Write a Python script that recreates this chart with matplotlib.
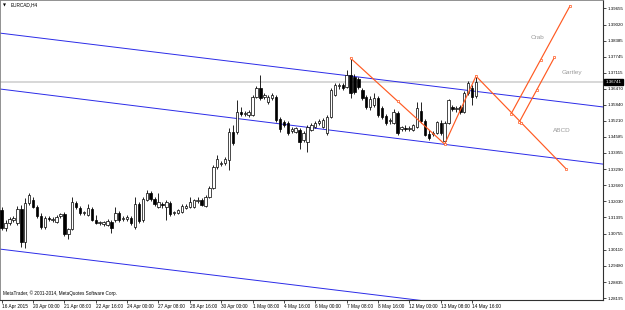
import matplotlib
matplotlib.use("Agg")
import matplotlib.pyplot as plt
from matplotlib.patches import Rectangle
from matplotlib.transforms import blended_transform_factory

# ---------------- data (EURCAD H4) ----------------
opens = [1.3169, 1.3097, 1.3117, 1.3129, 1.3117, 1.3172, 1.3042, 1.3196, 1.3208, 1.3180,
         1.3145, 1.3101, 1.3137, 1.3129, 1.3121, 1.3145, 1.3153, 1.3074, 1.3093, 1.3196,
         1.3176, 1.3157, 1.3149, 1.3172, 1.3129, 1.3117, 1.3113, 1.3109, 1.3121, 1.3129,
         1.3157, 1.3133, 1.3133, 1.3137, 1.3101, 1.3192, 1.3129, 1.3208, 1.3236, 1.3212,
         1.3180, 1.3192, 1.3180, 1.3196, 1.3157, 1.3157, 1.3161, 1.3176, 1.3180, 1.3180,
         1.3204, 1.3208, 1.3184, 1.3220, 1.3256, 1.3339, 1.3350, 1.3354, 1.3366, 1.3477,
         1.3477, 1.3556, 1.3548, 1.3544, 1.3544, 1.3615, 1.3651, 1.3615, 1.3596, 1.3611,
         1.3615, 1.3528, 1.3516, 1.3512, 1.3481, 1.3477, 1.3485, 1.3445, 1.3437, 1.3485,
         1.3497, 1.3512, 1.3497, 1.3473, 1.3536, 1.3623, 1.3659, 1.3663, 1.3655, 1.3702,
         1.3694, 1.3687, 1.3643, 1.3615, 1.3576, 1.3584, 1.3611, 1.3572, 1.3540, 1.3520,
         1.3512, 1.3552, 1.3489, 1.3493, 1.3489, 1.3485, 1.3497, 1.3560, 1.3520, 1.3469,
         1.3469, 1.3473, 1.3512, 1.3441, 1.3512, 1.3576, 1.3568, 1.3576, 1.3556, 1.3631,
         1.3651, 1.3619]
highs = [1.3180, 1.3129, 1.3141, 1.3145, 1.3184, 1.3188, 1.3216, 1.3236, 1.3220, 1.3188,
         1.3157, 1.3145, 1.3145, 1.3141, 1.3149, 1.3157, 1.3161, 1.3097, 1.3220, 1.3204,
         1.3184, 1.3165, 1.3192, 1.3180, 1.3149, 1.3125, 1.3125, 1.3133, 1.3129, 1.3180,
         1.3165, 1.3145, 1.3149, 1.3145, 1.3220, 1.3200, 1.3220, 1.3248, 1.3244, 1.3220,
         1.3236, 1.3200, 1.3208, 1.3204, 1.3165, 1.3172, 1.3192, 1.3192, 1.3220, 1.3212,
         1.3220, 1.3216, 1.3228, 1.3264, 1.3346, 1.3386, 1.3362, 1.3378, 1.3493, 1.3505,
         1.3604, 1.3576, 1.3560, 1.3564, 1.3623, 1.3659, 1.3702, 1.3631, 1.3623, 1.3631,
         1.3623, 1.3536, 1.3524, 1.3520, 1.3497, 1.3497, 1.3493, 1.3481, 1.3505, 1.3512,
         1.3520, 1.3528, 1.3532, 1.3544, 1.3651, 1.3671, 1.3671, 1.3671, 1.3722, 1.3769,
         1.3706, 1.3694, 1.3651, 1.3623, 1.3619, 1.3631, 1.3619, 1.3580, 1.3548, 1.3532,
         1.3568, 1.3560, 1.3501, 1.3505, 1.3501, 1.3508, 1.3596, 1.3596, 1.3528, 1.3485,
         1.3481, 1.3520, 1.3524, 1.3520, 1.3607, 1.3584, 1.3580, 1.3584, 1.3639, 1.3679,
         1.3663, 1.3698]
lows = [1.3090, 1.3086, 1.3109, 1.3121, 1.3109, 1.3022, 1.3018, 1.3188, 1.3176, 1.3137,
        1.3093, 1.3093, 1.3125, 1.3121, 1.3117, 1.3137, 1.3066, 1.3054, 1.3090, 1.3172,
        1.3149, 1.3149, 1.3145, 1.3125, 1.3113, 1.3109, 1.3105, 1.3105, 1.3078, 1.3121,
        1.3121, 1.3125, 1.3125, 1.3109, 1.3093, 1.3117, 1.3121, 1.3204, 1.3204, 1.3184,
        1.3176, 1.3176, 1.3129, 1.3145, 1.3149, 1.3153, 1.3157, 1.3172, 1.3176, 1.3176,
        1.3196, 1.3184, 1.3180, 1.3216, 1.3252, 1.3331, 1.3343, 1.3346, 1.3327, 1.3426,
        1.3469, 1.3540, 1.3540, 1.3536, 1.3540, 1.3611, 1.3604, 1.3607, 1.3588, 1.3604,
        1.3516, 1.3477, 1.3497, 1.3465, 1.3473, 1.3473, 1.3410, 1.3437, 1.3398, 1.3481,
        1.3493, 1.3505, 1.3493, 1.3465, 1.3532, 1.3619, 1.3647, 1.3643, 1.3651, 1.3611,
        1.3627, 1.3647, 1.3604, 1.3568, 1.3564, 1.3576, 1.3536, 1.3528, 1.3505, 1.3508,
        1.3508, 1.3465, 1.3481, 1.3481, 1.3481, 1.3481, 1.3493, 1.3512, 1.3461, 1.3445,
        1.3461, 1.3469, 1.3465, 1.3429, 1.3508, 1.3560, 1.3556, 1.3548, 1.3552, 1.3623,
        1.3584, 1.3611]
closes = [1.3097, 1.3117, 1.3133, 1.3137, 1.3172, 1.3042, 1.3196, 1.3228, 1.3180, 1.3145,
          1.3101, 1.3137, 1.3133, 1.3133, 1.3141, 1.3153, 1.3074, 1.3093, 1.3200, 1.3180,
          1.3157, 1.3161, 1.3176, 1.3129, 1.3117, 1.3121, 1.3121, 1.3125, 1.3097, 1.3157,
          1.3129, 1.3137, 1.3141, 1.3117, 1.3192, 1.3125, 1.3212, 1.3236, 1.3212, 1.3192,
          1.3200, 1.3188, 1.3200, 1.3153, 1.3161, 1.3169, 1.3184, 1.3184, 1.3200, 1.3208,
          1.3208, 1.3188, 1.3220, 1.3256, 1.3339, 1.3370, 1.3354, 1.3370, 1.3477, 1.3433,
          1.3556, 1.3548, 1.3552, 1.3556, 1.3615, 1.3651, 1.3611, 1.3623, 1.3615, 1.3623,
          1.3524, 1.3489, 1.3505, 1.3473, 1.3489, 1.3493, 1.3437, 1.3473, 1.3497, 1.3505,
          1.3512, 1.3520, 1.3524, 1.3536, 1.3643, 1.3663, 1.3663, 1.3651, 1.3702, 1.3631,
          1.3635, 1.3655, 1.3611, 1.3576, 1.3607, 1.3611, 1.3544, 1.3536, 1.3512, 1.3524,
          1.3556, 1.3473, 1.3497, 1.3489, 1.3493, 1.3505, 1.3572, 1.3520, 1.3465, 1.3453,
          1.3473, 1.3516, 1.3473, 1.3512, 1.3604, 1.3568, 1.3572, 1.3556, 1.3631, 1.3671,
          1.3615, 1.3674]

current_price = 1.36741

time_tick_bars = [0, 8, 16, 24, 32, 40, 48, 56, 64, 72, 80, 88, 96, 104, 112, 120]
time_tick_labels = ["16 Apr 2015", "20 Apr 00:00", "21 Apr 08:00", "22 Apr 16:00",
                    "24 Apr 00:00", "27 Apr 08:00", "28 Apr 16:00", "30 Apr 00:00",
                    "1 May 08:00", "4 May 16:00", "6 May 00:00", "7 May 08:00",
                    "8 May 16:00", "12 May 00:00", "13 May 08:00", "14 May 16:00"]

price_tick_labels = ["1.39655", "1.39020", "1.38385", "1.37745", "1.37115", "1.36470",
                     "1.35840", "1.35210", "1.34585", "1.33955", "1.33290", "1.32660",
                     "1.32030", "1.31395", "1.30755", "1.30110", "1.29480", "1.28835",
                     "1.28195"]
price_tick_values = [float(s) for s in price_tick_labels]

# regression-style channel (bar index, price)
channel_x = [-0.43, 153.4]
channel_upper = [1.3868, 1.3576]
channel_middle = [1.3647, 1.3350]
channel_lower = [1.3014, 1.2723]

# harmonic projections
abcd_x = [89, 113, 121, 144]
abcd_y = [1.3769, 1.3429, 1.3698, 1.3331]
gartley_x = [132, 141]
gartley_y = [1.3515, 1.3772]
crab_x = [130, 145]
crab_y = [1.3550, 1.3976]
pattern_names = ["Crab", "Gartley", "ABCD"]
pattern_label_x = [136.8, 145.6, 142.8]
pattern_label_y = [1.3849, 1.3714, 1.3481]

# ---------------- drawing ----------------
W, H = 625, 310
fig = plt.figure(figsize=(W / 100, H / 100), dpi=100)
fig.patch.set_facecolor("white")
ax = fig.add_axes([0.0, 10 / H, 603 / W, 300 / H])
ax.set_facecolor("white")
ax.set_xlim(-0.43, 153.4)
ax.set_ylim(1.28127, 1.39989)

# current price line
ax.axhline(current_price, color="#d4d4d4", lw=1.3, zorder=1)

# channel lines
blue = "#2b2be8"
for ys in (channel_upper, channel_middle, channel_lower):
    ax.plot(channel_x, ys, color=blue, lw=0.7, zorder=2)

# candles
bw = 0.62
for i, (o, h, l, c) in enumerate(zip(opens, highs, lows, closes)):
    ax.plot([i, i], [l, h], color="black", lw=0.6, zorder=3, solid_capstyle="butt")
    bottom = min(o, c)
    height = max(abs(c - o), 0.00012)
    face = "white" if c >= o else "black"
    ax.add_patch(Rectangle((i - bw / 2, bottom), bw, height, facecolor=face,
                           edgecolor="black", lw=0.5, zorder=4))

# harmonic pattern lines
orange = "#ff5a22"
def draw_line(xs, ys):
    ax.plot(xs, ys, color=orange, lw=0.85, zorder=5)

for k in range(len(abcd_x) - 1):
    draw_line(abcd_x[k:k + 2], abcd_y[k:k + 2])
draw_line(gartley_x, gartley_y)
draw_line(crab_x, crab_y)

# selection markers (ends + midpoint)
mk_x, mk_y = [], []
for xs, ys in ((abcd_x[0:2], abcd_y[0:2]), (abcd_x[2:4], abcd_y[2:4]),
               (gartley_x, gartley_y), (crab_x, crab_y)):
    mk_x += [xs[0], (xs[0] + xs[1]) / 2, xs[1]]
    mk_y += [ys[0], (ys[0] + ys[1]) / 2, ys[1]]
ax.plot(mk_x, mk_y, ls="none", marker="s", ms=2.0, mfc="white", mec=orange,
        mew=0.5, zorder=6)

for name, px, py in zip(pattern_names, pattern_label_x, pattern_label_y):
    ax.text(px, py, name, color="#9a9a9a", fontsize=4.6, ha="center", va="center",
            family="Liberation Sans", zorder=6)

# axes styling
for s in ("left", "top"):
    ax.spines[s].set_color("#808080")
    ax.spines[s].set_linewidth(0.6)
for s in ("right", "bottom"):
    ax.spines[s].set_color("#303030")
    ax.spines[s].set_linewidth(0.8)

ax.yaxis.tick_right()
ax.set_yticks(price_tick_values)
ax.set_yticklabels(price_tick_labels, family="Liberation Sans", fontsize=3.2)
ax.tick_params(axis="y", direction="out", length=2, width=0.5, pad=1.5,
               colors="black")

ax.set_xticks(time_tick_bars)
ax.set_xticklabels(time_tick_labels, family="Liberation Sans", fontsize=3.4,
                   ha="left")
ax.tick_params(axis="x", direction="out", length=2, width=0.5, pad=1.0,
               colors="black")

# current price tag on the axis
tr = blended_transform_factory(ax.transAxes, ax.transData)
ax.text(1.004, current_price, "1.36741", transform=tr, fontsize=3.2,
        family="Liberation Sans", color="white", ha="left", va="center",
        bbox=dict(boxstyle="square,pad=0.25", fc="black", ec="black"), zorder=10,
        clip_on=False)

# header and copyright
ax.text(0.005, 0.983, "\u25bc", transform=ax.transAxes, fontsize=2.8,
        ha="left", va="center", color="black")
ax.text(0.017, 0.983, "EURCAD,H4", transform=ax.transAxes, fontsize=3.4,
        family="Liberation Sans", ha="left", va="center", color="black")
ax.text(0.005, 0.013, "MetaTrader, \u00a9 2001-2014, MetaQuotes Software Corp.",
        transform=ax.transAxes, fontsize=3.3, family="Liberation Sans",
        ha="left", va="bottom", color="black")

fig.savefig("out.png", dpi=100, facecolor="white")
